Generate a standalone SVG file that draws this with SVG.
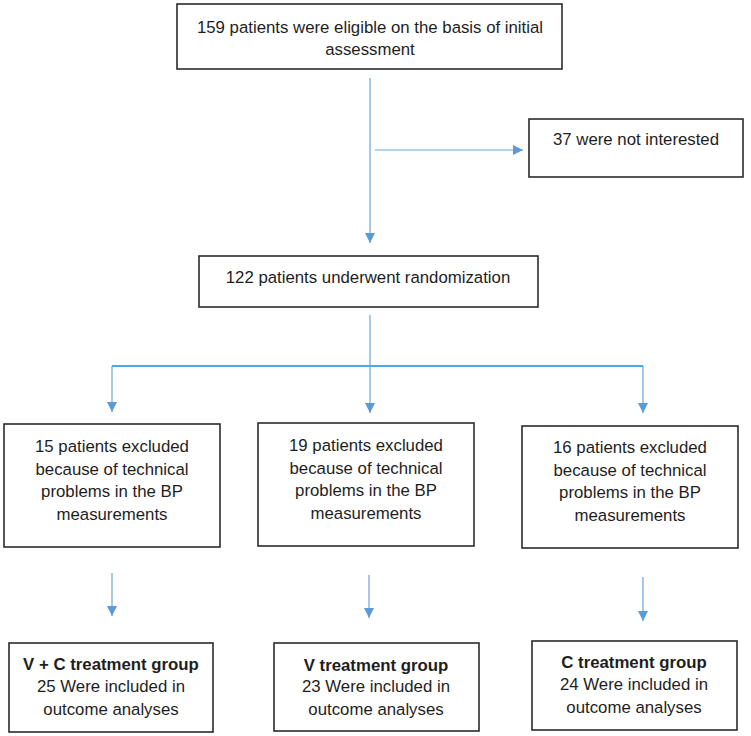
<svg xmlns="http://www.w3.org/2000/svg" width="751" height="736" viewBox="0 0 751 736">
<style>
.box{fill:#fff;stroke:#2b2b2b;stroke-width:1.6}
.t{font-family:"Liberation Sans",Arial,sans-serif;font-size:16.8px;fill:#1e1e1e;text-anchor:middle}
.b{font-weight:bold}
.c{fill:none;stroke:#6aa5dc;stroke-width:1.2}
.bar{fill:none;stroke:#4aa8e6;stroke-width:2.2}
</style>
<defs>
<marker id="ah" viewBox="0 0 10 10" refX="10" refY="5" markerWidth="11" markerHeight="10" markerUnits="userSpaceOnUse" orient="auto">
<path d="M0,0 L10,5 L0,10 z" fill="#5b9bd5"/>
</marker>
</defs>
<rect width="751" height="736" fill="#fff"/>
<g id="connectors">
<path class="c" d="M370,78 V243" marker-end="url(#ah)"/>
<path class="c" d="M375,150 H523" marker-end="url(#ah)"/>
<path class="c" d="M370,315 V366"/>
<path class="bar" d="M112,366 H643"/>
<path class="c" d="M112,366 V412" marker-end="url(#ah)"/>
<path class="c" d="M370,366 V413" marker-end="url(#ah)"/>
<path class="c" d="M643,366 V413" marker-end="url(#ah)"/>
<path class="c" d="M112,573 V616" marker-end="url(#ah)"/>
<path class="c" d="M369,575 V618" marker-end="url(#ah)"/>
<path class="c" d="M643,577 V621" marker-end="url(#ah)"/>
</g>
<g id="eligible">
<rect class="box" x="177" y="4" width="385" height="65"/>
<text class="t" x="370" y="33">159 patients were eligible on the basis of initial</text>
<text class="t" x="370" y="55">assessment</text>
</g>
<g id="notinterested">
<rect class="box" x="529" y="119" width="214" height="58"/>
<text class="t" x="636" y="145">37 were not interested</text>
</g>
<g id="randomized">
<rect class="box" x="199" y="256" width="339" height="51"/>
<text class="t" x="368" y="283">122 patients underwent randomization</text>
</g>
<g id="excl1">
<rect class="box" x="4" y="424" width="216" height="123"/>
<text class="t" x="112" y="452">15 patients excluded</text>
<text class="t" x="112" y="474.5">because of technical</text>
<text class="t" x="112" y="497">problems in the BP</text>
<text class="t" x="112" y="520">measurements</text>
</g>
<g id="excl2">
<rect class="box" x="258" y="423" width="216" height="123"/>
<text class="t" x="366" y="451">19 patients excluded</text>
<text class="t" x="366" y="473.5">because of technical</text>
<text class="t" x="366" y="496">problems in the BP</text>
<text class="t" x="366" y="519">measurements</text>
</g>
<g id="excl3">
<rect class="box" x="522" y="426" width="216" height="122"/>
<text class="t" x="630" y="453">16 patients excluded</text>
<text class="t" x="630" y="475.5">because of technical</text>
<text class="t" x="630" y="498">problems in the BP</text>
<text class="t" x="630" y="521">measurements</text>
</g>
<g id="grpVC">
<rect class="box" x="9" y="643" width="204" height="89"/>
<text class="t b" x="111" y="670">V + C treatment group</text>
<text class="t" x="111" y="692">25 Were included in</text>
<text class="t" x="111" y="715">outcome analyses</text>
</g>
<g id="grpV">
<rect class="box" x="274" y="643" width="205" height="88"/>
<text class="t b" x="376" y="671">V treatment group</text>
<text class="t" x="376" y="692">23 Were included in</text>
<text class="t" x="376" y="715">outcome analyses</text>
</g>
<g id="grpC">
<rect class="box" x="532" y="641" width="205" height="89"/>
<text class="t b" x="634" y="668">C treatment group</text>
<text class="t" x="634" y="690">24 Were included in</text>
<text class="t" x="634" y="713">outcome analyses</text>
</g>
</svg>
